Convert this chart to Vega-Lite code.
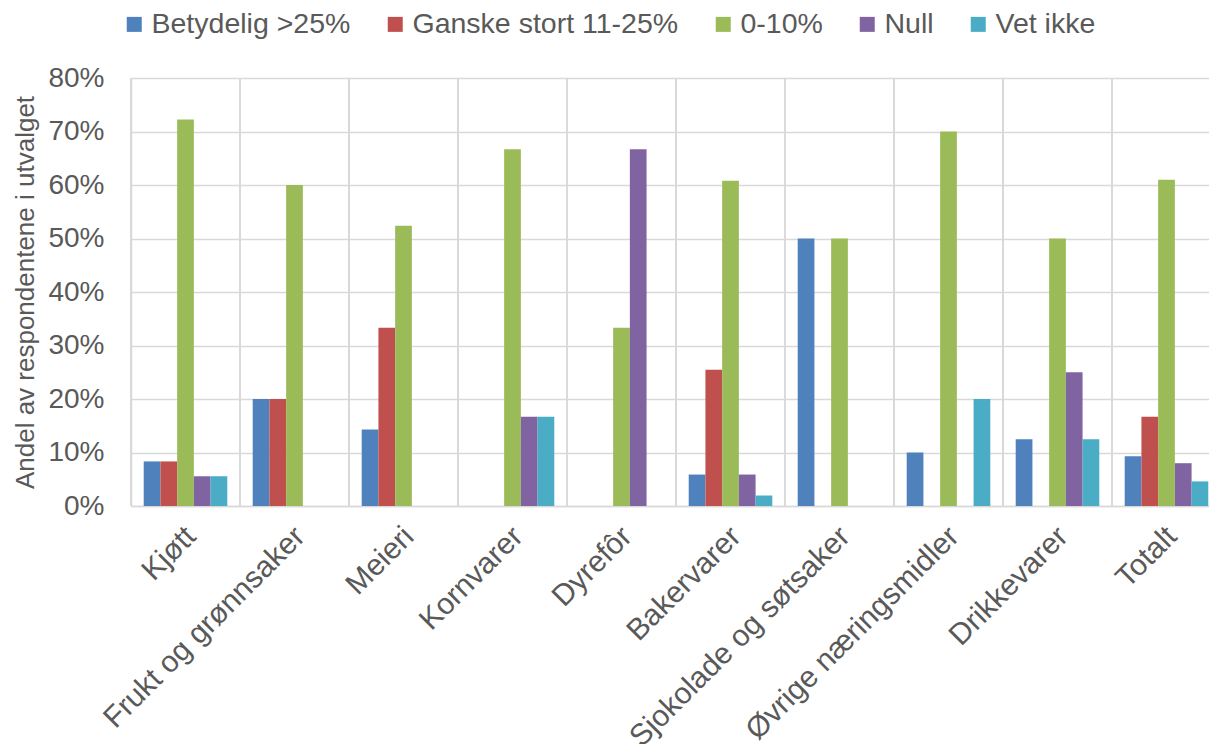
{
  "$schema": "https://vega.github.io/schema/vega-lite/v6.json",
  "autosize": {"type": "none"},
  "padding": {"left": 131, "top": 78, "right": 0, "bottom": 238},
  "width": 1078,
  "height": 428,
  "config": {
    "font": "Liberation Sans",
    "view": {"stroke": null},
    "axis": {
      "labelColor": "#595959",
      "titleColor": "#595959",
      "labelFont": "Liberation Sans",
      "titleFont": "Liberation Sans",
      "domainColor": "#D9D9D9",
      "gridColor": "#D9D9D9",
      "gridWidth": 1.5,
      "domainWidth": 1.5
    }
  },
  "data": {
    "values": [
      {"kategori": "Kjøtt", "andel": "Betydelig >25%", "verdi": 0.0833},
      {"kategori": "Kjøtt", "andel": "Ganske stort 11-25%", "verdi": 0.0833},
      {"kategori": "Kjøtt", "andel": "0-10%", "verdi": 0.7222},
      {"kategori": "Kjøtt", "andel": "Null", "verdi": 0.0556},
      {"kategori": "Kjøtt", "andel": "Vet ikke", "verdi": 0.0556},
      {"kategori": "Frukt og grønnsaker", "andel": "Betydelig >25%", "verdi": 0.2},
      {"kategori": "Frukt og grønnsaker", "andel": "Ganske stort 11-25%", "verdi": 0.2},
      {"kategori": "Frukt og grønnsaker", "andel": "0-10%", "verdi": 0.6},
      {"kategori": "Meieri", "andel": "Betydelig >25%", "verdi": 0.1429},
      {"kategori": "Meieri", "andel": "Ganske stort 11-25%", "verdi": 0.3333},
      {"kategori": "Meieri", "andel": "0-10%", "verdi": 0.5238},
      {"kategori": "Kornvarer", "andel": "0-10%", "verdi": 0.6667},
      {"kategori": "Kornvarer", "andel": "Null", "verdi": 0.1667},
      {"kategori": "Kornvarer", "andel": "Vet ikke", "verdi": 0.1667},
      {"kategori": "Dyrefôr", "andel": "0-10%", "verdi": 0.3333},
      {"kategori": "Dyrefôr", "andel": "Null", "verdi": 0.6667},
      {"kategori": "Bakervarer", "andel": "Betydelig >25%", "verdi": 0.0588},
      {"kategori": "Bakervarer", "andel": "Ganske stort 11-25%", "verdi": 0.2549},
      {"kategori": "Bakervarer", "andel": "0-10%", "verdi": 0.6078},
      {"kategori": "Bakervarer", "andel": "Null", "verdi": 0.0588},
      {"kategori": "Bakervarer", "andel": "Vet ikke", "verdi": 0.0196},
      {"kategori": "Sjokolade og søtsaker", "andel": "Betydelig >25%", "verdi": 0.5},
      {"kategori": "Sjokolade og søtsaker", "andel": "0-10%", "verdi": 0.5},
      {"kategori": "Øvrige næringsmidler", "andel": "Betydelig >25%", "verdi": 0.1},
      {"kategori": "Øvrige næringsmidler", "andel": "0-10%", "verdi": 0.7},
      {"kategori": "Øvrige næringsmidler", "andel": "Vet ikke", "verdi": 0.2},
      {"kategori": "Drikkevarer", "andel": "Betydelig >25%", "verdi": 0.125},
      {"kategori": "Drikkevarer", "andel": "0-10%", "verdi": 0.5},
      {"kategori": "Drikkevarer", "andel": "Null", "verdi": 0.25},
      {"kategori": "Drikkevarer", "andel": "Vet ikke", "verdi": 0.125},
      {"kategori": "Totalt", "andel": "Betydelig >25%", "verdi": 0.093},
      {"kategori": "Totalt", "andel": "Ganske stort 11-25%", "verdi": 0.167},
      {"kategori": "Totalt", "andel": "0-10%", "verdi": 0.61},
      {"kategori": "Totalt", "andel": "Null", "verdi": 0.08},
      {"kategori": "Totalt", "andel": "Vet ikke", "verdi": 0.046}
    ]
  },
  "layer": [
    {
      "mark": {"type": "rule", "color": "#D9D9D9", "strokeWidth": 1.5},
      "encoding": {
        "x": {
          "field": "kategori",
          "type": "nominal",
          "bandPosition": 0,
          "sort": ["Kjøtt", "Frukt og grønnsaker", "Meieri", "Kornvarer", "Dyrefôr", "Bakervarer", "Sjokolade og søtsaker", "Øvrige næringsmidler", "Drikkevarer", "Totalt"],
          "scale": {"range": [0, 1090], "paddingInner": 0, "paddingOuter": 0},
          "axis": {"title": null, "labelAngle": -45, "labelFontSize": 30, "labelPadding": 15, "labelOffset": -5, "labelLimit": 500, "ticks": false, "tickSize": 0, "grid": false}
        }
      }
    },
    {
      "mark": {"type": "bar"},
      "encoding": {
        "x": {
          "field": "kategori",
          "type": "nominal",
          "sort": ["Kjøtt", "Frukt og grønnsaker", "Meieri", "Kornvarer", "Dyrefôr", "Bakervarer", "Sjokolade og søtsaker", "Øvrige næringsmidler", "Drikkevarer", "Totalt"],
          "scale": {"range": [0, 1090], "paddingInner": 0, "paddingOuter": 0},
          "axis": {"title": null, "labelAngle": -45, "labelFontSize": 30, "labelPadding": 15, "labelOffset": -5, "labelLimit": 500, "ticks": false, "tickSize": 0, "grid": false}
        },
        "xOffset": {
          "field": "andel",
          "type": "nominal",
          "scale": {"domain": ["Betydelig >25%", "Ganske stort 11-25%", "0-10%", "Null", "Vet ikke"], "paddingInner": 0, "paddingOuter": 0.76}
        },
        "y": {
          "field": "verdi",
          "type": "quantitative",
          "scale": {"domain": [0, 0.8]},
          "axis": {
            "title": "Andel av respondentene i utvalget",
            "titleFontSize": 26,
            "titleFontWeight": "normal",
            "titlePadding": 9,
            "format": ".0%",
            "values": [0, 0.1, 0.2, 0.3, 0.4, 0.5, 0.6, 0.7, 0.8],
            "labelFontSize": 28,
            "labelPadding": 27,
            "ticks": false,
            "tickSize": 0,
            "grid": true
          }
        },
        "color": {
          "field": "andel",
          "type": "nominal",
          "scale": {
            "domain": ["Betydelig >25%", "Ganske stort 11-25%", "0-10%", "Null", "Vet ikke"],
            "range": ["#4F81BD", "#C0504D", "#9BBB59", "#8064A2", "#4BACC6"]
          },
          "legend": {
            "title": null,
            "orient": "none",
            "direction": "horizontal",
            "legendX": -11,
            "legendY": -68,
            "symbolType": "square",
            "symbolSize": 225,
            "symbolStrokeWidth": 0,
            "symbolOpacity": 1,
            "labelFontSize": 28.5,
            "labelColor": "#595959",
            "labelFont": "Liberation Sans",
            "labelOffset": 3,
            "columnPadding": 30,
            "labelLimit": 400
          }
        }
      }
    }
  ]
}
